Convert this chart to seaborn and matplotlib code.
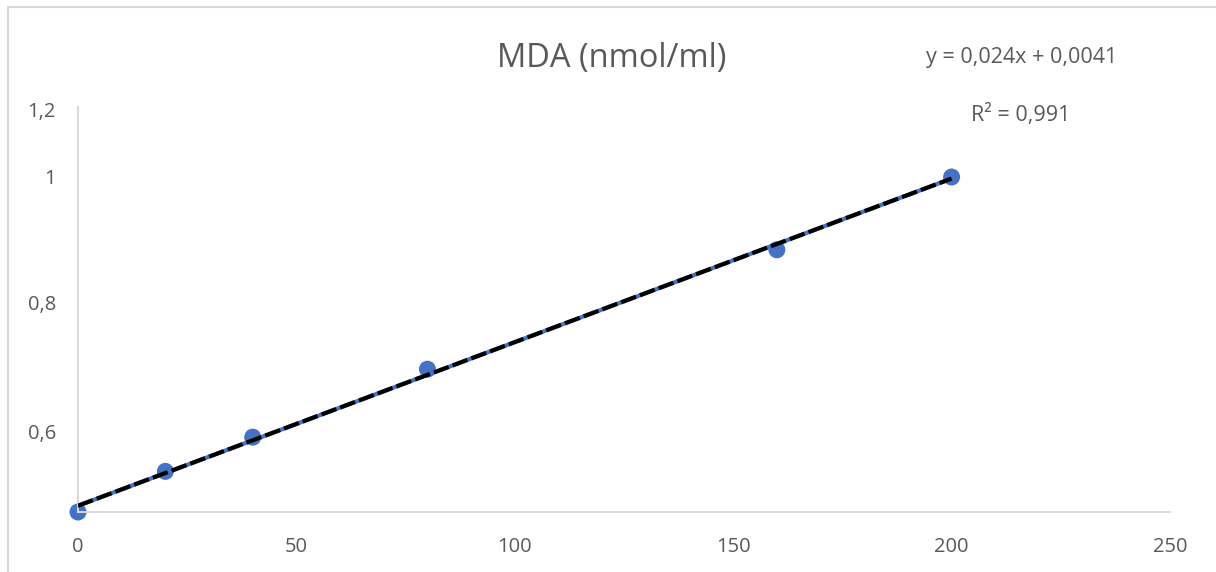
import numpy as np
import pandas as pd
import seaborn as sns
import matplotlib
matplotlib.use("Agg")
import matplotlib.pyplot as plt
from matplotlib.lines import Line2D
from matplotlib.ticker import FixedLocator, FuncFormatter

# ---- data ----
concentration = [0, 20, 40, 80, 160, 200]
absorbance = [0.476, 0.539, 0.592, 0.697, 0.884, 1.0]
x_ticks = [0, 50, 100, 150, 200, 250]
y_ticks = [0.6, 0.8, 1.0, 1.2]
title = "MDA (nmol/ml)"
equation_text = "y = 0,024x + 0,0041"
r2_text = "R² = 0,991"

# ---- styling ----
sns.set_theme(style="white")
plt.rcParams["font.family"] = ["Open Sans", "DejaVu Sans"]
TEXT = "#595959"
GRID = "#D9D9D9"
BLUE = "#4472C4"

# Non-uniform y scale as in the reference (piecewise linear)
KNOT_V = [-10.0, 0.476, 0.6, 0.8, 1.0, 1.2, 1.209, 10.0]
KNOT_P = [-6757.0, 0.0, 80.0, 209.5, 335.0, 402.0, 405.0, 3333.0]

def fwd(v):
    return np.interp(v, KNOT_V, KNOT_P)

def inv(p):
    return np.interp(p, KNOT_P, KNOT_V)

fig = plt.figure(figsize=(12.16, 5.72), dpi=100)
ax = fig.add_axes([78 / 1216, 1 - 512 / 572, (1170 - 78) / 1216, (512 - 107) / 572])
ax.set_yscale("function", functions=(fwd, inv))

df = pd.DataFrame({"x": concentration, "y": absorbance})
sns.scatterplot(data=df, x="x", y="y", ax=ax, s=150, color=BLUE,
                edgecolor="none", zorder=2, legend=False, clip_on=False)

# linear trendline fitted in displayed coordinates
b, a = np.polyfit(np.array(concentration, float), fwd(np.array(absorbance)), 1)
xs = np.linspace(min(concentration), max(concentration), 300)
ys = inv(a + b * xs)
trend = pd.DataFrame({"x": xs, "y": ys})
sns.lineplot(data=trend, x="x", y="y", ax=ax, color=BLUE, lw=3.0, zorder=3)
sns.lineplot(data=trend, x="x", y="y", ax=ax, color="black", lw=3.0, zorder=4)
ax.lines[-1].set_dashes((3.8, 1.0))

ax.set_xlim(0, 250)
ax.set_ylim(0.476, 1.209)
ax.xaxis.set_major_locator(FixedLocator(x_ticks))
ax.yaxis.set_major_locator(FixedLocator(y_ticks))
ax.yaxis.set_minor_locator(FixedLocator([]))
fmt = FuncFormatter(lambda v, p: "{:g}".format(round(v, 3)).replace(".", ","))
ax.xaxis.set_major_formatter(fmt)
ax.yaxis.set_major_formatter(fmt)
ax.tick_params(axis="both", length=0, labelsize=14.5, labelcolor=TEXT)
ax.tick_params(axis="x", pad=18)
ax.tick_params(axis="y", pad=16)
ax.set_xlabel("")
ax.set_ylabel("")
for s in ["top", "right"]:
    ax.spines[s].set_visible(False)
for s in ["left", "bottom"]:
    ax.spines[s].set_color(GRID)
    ax.spines[s].set_linewidth(1.4)
ax.set_facecolor("none")
ax.grid(False)

fig.text(612 / 1216, 1 - 58 / 572, title, ha="center", va="center",
         fontsize=23.5, color=TEXT)
fig.text(1022 / 1216, 1 - 58 / 572, equation_text, ha="center", va="center",
         fontsize=15.5, color=TEXT)
fig.text(1021 / 1216, 1 - 115 / 572, r2_text, ha="center", va="center",
         fontsize=15.5, color=TEXT)

# chart border (partially visible)
bx, by = 8 / 1216, 1 - 7 / 572
fig.add_artist(Line2D([bx, bx], [0, by], transform=fig.transFigure, color=GRID, lw=1.5))
fig.add_artist(Line2D([bx, 1], [by, by], transform=fig.transFigure, color=GRID, lw=1.5))

fig.savefig("out.png", dpi=100)
